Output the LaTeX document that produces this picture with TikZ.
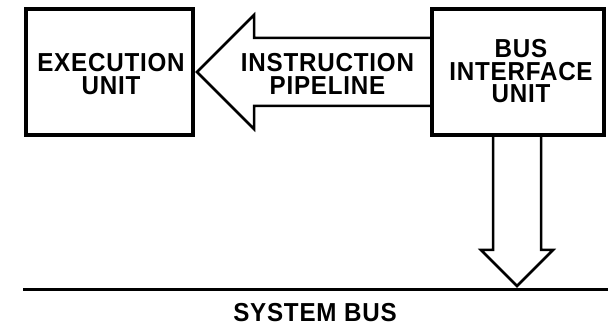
\documentclass[tikz,border=0pt]{standalone}
\usepackage{fontspec}
\setmainfont{Liberation Sans}[LetterSpace=3, FakeStretch=0.93]
\usetikzlibrary{calc}
\begin{document}
\begin{tikzpicture}[x=1pt,y=-1pt,
  unitbox/.style={draw, line width=4pt, outer sep=0pt, inner sep=0pt,
    minimum width=#1, minimum height=126pt},
  lbl/.style={inner sep=0pt, align=center, anchor=base,
    font=\fontsize{26}{23}\selectfont\bfseries},
  bigarrow/.style={draw, line width=2.5pt, line join=miter, miter limit=10},
  busline/.style={draw, line width=3pt}]
  \useasboundingbox (0,0) rectangle (608,336);

  % the two processing units (label anchors sit on the last baseline)
  \node[unitbox=167pt] (eu)  at (109.5,72) {};
  \node[unitbox=172pt] (biu) at (518,72)   {};
  \node[lbl] (eutxt)  at (111,95) {EXECUTION\\UNIT};
  \node[lbl, font=\fontsize{26}{22.5}\selectfont\bfseries]
    (biutxt) at (521,103) {BUS\\INTERFACE\\UNIT};

  % instruction pipeline: broad arrow from the BIU into the EU
  \coordinate (pipetip) at ($(eu.east)+(4,0)$);
  \draw[bigarrow] ($(biu.west)+(0,-34)$) -- ($(pipetip)+(57,-34)$)
    -- ($(pipetip)+(57,-57)$) -- (pipetip) -- ($(pipetip)+(57,57)$)
    -- ($(pipetip)+(57,34)$) -- ($(biu.west)+(0,34)$);
  \node[lbl] (pipe) at (327.5,95) {INSTRUCTION\\PIPELINE};

  % system bus
  \coordinate (busL) at (23,289.5);
  \coordinate (busR) at (608,289.5);
  \draw[busline] (busL) -- (busR);
  \node[lbl] (buslbl) at (315,322) {SYSTEM BUS};

  % broad arrow from the BIU down to the bus
  \coordinate (bustip) at ($(biu.south)+(-1,151)$);
  \draw[bigarrow] ($(biu.south)+(-25,0)$) -- ($(bustip)+(-24,-36)$)
    -- ($(bustip)+(-36,-36)$) -- (bustip) -- ($(bustip)+(36,-36)$)
    -- ($(bustip)+(24,-36)$) -- ($(biu.south)+(23,0)$);
\end{tikzpicture}
\end{document}
